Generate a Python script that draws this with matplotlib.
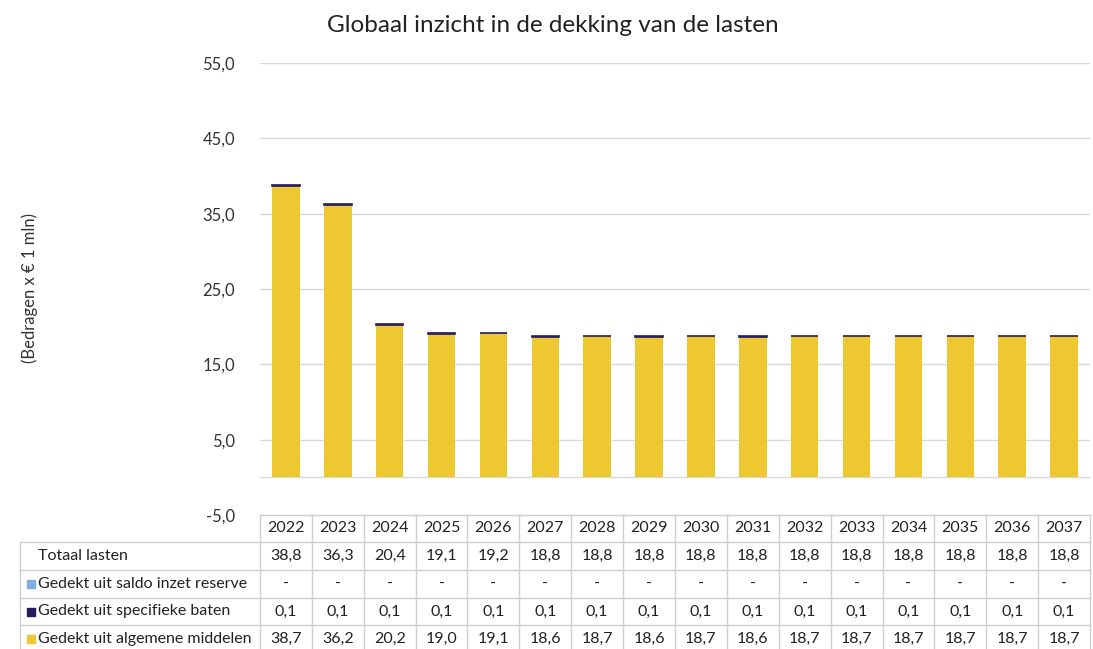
import numpy as np
import matplotlib
matplotlib.use("Agg")
import matplotlib.pyplot as plt
from matplotlib.patches import Rectangle

plt.rcParams['font.family'] = ['Lato', 'DejaVu Sans']

# data (x EUR 1 mln)
years = ['2022', '2023', '2024', '2025', '2026', '2027', '2028', '2029',
         '2030', '2031', '2032', '2033', '2034', '2035', '2036', '2037']
totaal = [38.8, 36.3, 20.4, 19.1, 19.2, 18.8, 18.8, 18.8, 18.8, 18.8, 18.8, 18.8, 18.8, 18.8, 18.8, 18.8]
reserve = [0] * 16
specifiek = [0.1] * 16
algemeen = [38.7, 36.2, 20.2, 19.0, 19.1, 18.6, 18.7, 18.6, 18.7, 18.6, 18.7, 18.7, 18.7, 18.7, 18.7, 18.7]

series_names = ['Gedekt uit saldo inzet reserve', 'Gedekt uit specifieke baten', 'Gedekt uit algemene middelen']
colors = ['#7DB1DC', '#231C5E', '#EDC830']

W, H = 1093, 649
fig = plt.figure(figsize=(W / 100, H / 100), dpi=100)

# chart area in pixels
ax_l, ax_r, ax_t, ax_b = 260, 1090, 63, 515
ax = fig.add_axes([ax_l / W, 1 - ax_b / H, (ax_r - ax_l) / W, (ax_b - ax_t) / H])

x = np.arange(len(years))
bw = 0.53
ax.bar(x, algemeen, bw, color=colors[2], zorder=3)
# thin slice: give it an edge so it stays visible at this size
ax.bar(x, specifiek, bw, bottom=algemeen, color=colors[1], edgecolor=colors[1],
       lw=1.2, zorder=4)
bott = np.array(algemeen) + np.array(specifiek)
ax.bar(x, reserve, bw, bottom=bott, color=colors[0], zorder=3)

ax.set_xlim(-0.5, len(years) - 0.5)
ax.set_ylim(-5, 55)
ax.set_yticks(np.arange(-5, 56, 10))
ax.set_yticklabels([f'{v:.1f}'.replace('.', ',') for v in np.arange(-5, 56, 10)],
                   fontsize=12, color='#333333')
ax.tick_params(axis='y', length=0, pad=18)
ax.set_xticks([])
for s in ax.spines.values():
    s.set_visible(False)
for v in np.arange(5, 56, 10):
    ax.axhline(v, color='#d9d9d9', lw=1, zorder=1)
ax.axhline(0, color='#d9d9d9', lw=1, zorder=1)

fig.text(553 / W, 1 - 25 / H, 'Globaal inzicht in de dekking van de lasten',
         ha='center', va='center', fontsize=17.5, color='#222222')
fig.text(30 / W, 1 - 288 / H, '(Bedragen x € 1 mln)', rotation=90,
         ha='center', va='center', fontsize=12, color='#333333')

# data table below the chart
colw = (ax_r - ax_l) / len(years)
tab_l = 20
tx = fig.add_axes([tab_l / W, 0, (ax_r - tab_l) / W, (H - ax_b) / H])
tx.set_xlim(-0.5 - (ax_l - tab_l) / colw, len(years) - 0.5)
tx.set_ylim(H, ax_b)
tx.axis('off')

rows = [515, 542, 570, 598, 625, 652]
lc = '#cfcfcf'
left_edge = -0.5 - (ax_l - tab_l) / colw
# horizontal lines
tx.plot([-0.5, len(years) - 0.5], [rows[0], rows[0]], color=lc, lw=1, clip_on=False)
for r in rows[1:]:
    tx.plot([left_edge, len(years) - 0.5], [r, r], color=lc, lw=1, clip_on=False)
# vertical lines
tx.plot([left_edge, left_edge], [rows[1], rows[-1]], color=lc, lw=1, clip_on=False)
for i in range(len(years) + 1):
    tx.plot([i - 0.5, i - 0.5], [rows[0], rows[-1]], color=lc, lw=1, clip_on=False)

def fmt(v):
    if v == 0:
        return '-'
    return f'{v:.1f}'.replace('.', ',')

table_rows = [totaal, reserve, specifiek, algemeen]
labels = ['Totaal lasten'] + series_names
fs = 11.5
for i, yr in enumerate(years):
    tx.text(i, (rows[0] + rows[1]) / 2, yr, ha='center', va='center', fontsize=fs, color='#222222')
    for j, vals in enumerate(table_rows):
        tx.text(i, (rows[j + 1] + rows[j + 2]) / 2, fmt(vals[i]), ha='center', va='center',
                fontsize=fs, color='#222222')

px = 1 / colw  # one pixel in table x units
for j, lab in enumerate(labels):
    yc = (rows[j + 1] + rows[j + 2]) / 2
    tx.text(left_edge + 18 * px, yc, lab, ha='left', va='center', fontsize=fs, color='#222222')
    if j > 0:
        tx.add_patch(Rectangle((left_edge + 7 * px, yc - 4), 8 * px, 8,
                               color=colors[j - 1], clip_on=False))

fig.savefig('out.png', dpi=100)
